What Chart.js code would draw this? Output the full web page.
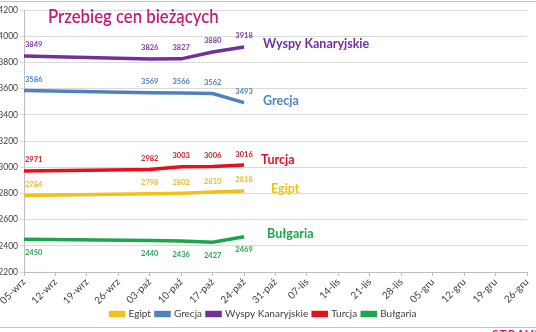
<!DOCTYPE html>
<html>
<head>
<meta charset="utf-8">
<script src="https://cdn.jsdelivr.net/npm/chart.js@4.4.1/dist/chart.umd.min.js"></script>
<style>
  html, body { margin: 0; padding: 0; background: #fff; }
  #wrap { position: relative; width: 536px; height: 332px; overflow: hidden; }
  #chart { position: absolute; left: 0; top: 0; }
  .rule { position: absolute; left: 0; width: 536px; height: 1px; background: #c4c4c4; }
  #logo { position: absolute; left: 492px; top: 326px; font: bold 12px Lato, sans-serif; color: #d4147a; letter-spacing: 1px; }
</style>
</head>
<body>
<div id="wrap">
  <canvas id="chart" width="536" height="332"></canvas>
  <div class="rule" style="top:1px"></div>
  <div class="rule" style="top:327px"></div>
  <div id="logo">STRAVEL</div>
</div>
<script>
const weeks = ['05-wrz', '12-wrz', '19-wrz', '26-wrz', '03-paź', '10-paź', '17-paź', '24-paź', '31-paź',
  '07-lis', '14-lis', '21-lis', '28-lis', '05-gru', '12-gru', '19-gru', '26-gru']

const egipt = [2784, null, null, null, 2798, 2802, 2810, 2818, null, null, null, null, null, null, null, null, null]
const grecja = [3586, null, null, null, 3569, 3566, 3562, 3493, null, null, null, null, null, null, null, null, null]
const wyspy = [3849, null, null, null, 3826, 3827, 3880, 3918, null, null, null, null, null, null, null, null, null]
const turcja = [2971, null, null, null, 2982, 3003, 3006, 3016, null, null, null, null, null, null, null, null, null]
const bulgaria = [2450, null, null, null, 2440, 2436, 2427, 2469, null, null, null, null, null, null, null, null, null]

const yTicks = { min: 2200, max: 4200, step: 200 }

const FONT = 'Lato, "Open Sans", sans-serif'
const AXIS_TXT = '#404040'

// labels beside points and the series name at the end of each line
const pointLabels = {
  id: 'pointLabels',
  afterDatasetsDraw(chart) {
    const ctx = chart.ctx
    const area = chart.chartArea
    ctx.save()
    chart.data.datasets.forEach((ds, i) => {
      const meta = chart.getDatasetMeta(i)
      const o = ds.labelOpts
      ctx.fillStyle = o.textColor
      ctx.font = 'bold 7.5px ' + FONT
      ctx.textBaseline = 'middle'
      let last = null
      meta.data.forEach((pt, j) => {
        const v = ds.data[j]
        if (v == null) return
        last = pt
        const s = String(v)
        const w = ctx.measureText(s).width
        let x = pt.x - w / 2
        if (x < area.left) x = area.left + 1
        ctx.textAlign = 'left'
        ctx.fillText(s, x, pt.y + (o.below ? 13 : -11))
      })
      if (last) {
        ctx.font = 'bold 12.5px ' + FONT
        ctx.textAlign = 'left'
        ctx.fillStyle = o.nameColor
        ctx.fillText(ds.label, last.x + o.nameDx, last.y + o.nameDy)
      }
    })
    ctx.restore()
  }
}

const titlePlugin = {
  id: 'titleText',
  afterDraw(chart) {
    const ctx = chart.ctx
    ctx.save()
    ctx.font = '600 19px ' + FONT
    ctx.fillStyle = '#c21c7c'
    ctx.textAlign = 'left'
    ctx.textBaseline = 'alphabetic'
    ctx.translate(48, 23)
    ctx.scale(0.88, 1)
    ctx.fillText('Przebieg cen bieżących', 0, 0)
    ctx.restore()
  }
}

function series(label, data, color, textColor, opts) {
  return {
    label,
    data,
    borderColor: color,
    backgroundColor: color,
    borderWidth: 3.5,
    pointRadius: 0,
    tension: 0,
    spanGaps: true,
    labelOpts: Object.assign({ textColor, nameColor: color }, opts)
  }
}

new Chart(document.getElementById('chart'), {
  type: 'line',
  data: {
    labels: weeks,
    datasets: [
      series('Egipt', egipt, '#f2c01a', '#e9bf2c', { below: false, nameDx: 27, nameDy: -2 }),
      series('Grecja', grecja, '#4f81bd', '#4f7fbf', { below: false, nameDx: 19, nameDy: -2 }),
      series('Wyspy Kanaryjskie', wyspy, '#7030a0', '#7a3fa8', { below: false, nameDx: 19, nameDy: -3 }),
      series('Turcja', turcja, '#e5101b', '#d4202a', { below: false, nameDx: 17, nameDy: -5 }),
      series('Bułgaria', bulgaria, '#1aa64b', '#27a356', { below: true, nameDx: 23, nameDy: -3 })
    ]
  },
  options: {
    responsive: false,
    animation: false,
    layout: { padding: { left: 0, right: 9, top: 10, bottom: 3 } },
    plugins: {
      legend: {
        position: 'bottom',
        labels: {
          boxWidth: 13,
          boxHeight: 3,
          padding: 5,
          color: AXIS_TXT,
          font: { family: FONT, size: 10 }
        }
      },
      tooltip: { enabled: false }
    },
    scales: {
      x: {
        offset: false,
        grid: { display: true, drawOnChartArea: false, color: '#bfbfbf', tickLength: 4 },
        border: { color: '#bfbfbf' },
        ticks: {
          autoSkip: false, maxRotation: 45, minRotation: 45, padding: 0,
          color: AXIS_TXT, font: { family: FONT, size: 10 }
        },
        afterFit(scale) { scale.height = 32 }
      },
      y: {
        min: yTicks.min,
        max: yTicks.max,
        grid: { color: '#dadada', tickLength: 4 },
        border: { color: '#bfbfbf' },
        ticks: {
          stepSize: yTicks.step, padding: 2,
          color: AXIS_TXT, font: { family: FONT, size: 8.5 },
          callback: (v) => String(v)
        },
        afterFit(scale) { scale.width = 24 }
      }
    }
  },
  plugins: [pointLabels, titlePlugin]
})
</script>
</body>
</html>
